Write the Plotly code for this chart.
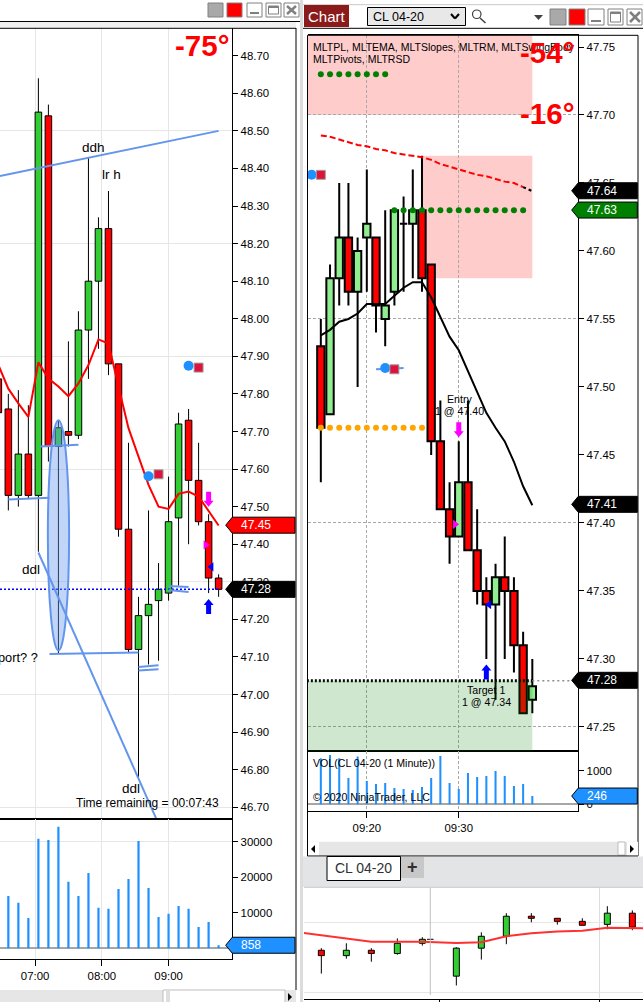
import plotly.graph_objects as go

W, H = 643, 1002
DAY = "2020-03-03 "
FONT = "Liberation Sans"
BLUE_LINE = "#6495ed"
VOL_BLUE = "#1e90ff"

# Left chart, 9 minute bars
left_times = ["06:27", "06:36", "06:45", "06:54", "07:03", "07:12", "07:21", "07:30", "07:39", "07:48", "07:57", "08:06",
              "08:15", "08:24", "08:33", "08:42", "08:51", "09:00", "09:09", "09:18", "09:27", "09:36", "09:45"]
left_open = [47.84, 47.76, 47.53, 47.64, 47.53, 48.54, 47.66, 47.70, 47.69, 47.97, 48.10, 48.24,
             47.88, 47.44, 47.12, 47.21, 47.25, 47.27, 47.47, 47.73, 47.57, 47.46, 47.31]
left_close = [47.75, 47.53, 47.64, 47.53, 48.55, 47.66, 47.71, 47.69, 47.97, 48.10, 48.24, 47.88,
              47.44, 47.12, 47.21, 47.24, 47.28, 47.46, 47.72, 47.57, 47.46, 47.31, 47.28]
left_high = [47.84, 47.80, 47.81, 47.77, 48.64, 48.57, 47.73, 47.94, 48.02, 48.43, 48.27, 48.34,
             47.88, 47.67, 47.26, 47.49, 47.35, 47.58, 47.75, 47.76, 47.67, 47.48, 47.32]
left_low = [47.70, 47.49, 47.50, 47.52, 47.38, 47.62, 47.11, 47.66, 47.68, 47.84, 47.92, 47.85,
            47.42, 47.11, 46.78, 47.08, 47.09, 47.25, 47.29, 47.40, 47.45, 47.27, 47.26]
left_ema = [47.877, 47.814, 47.775, 47.739, 47.884, 47.841, 47.82, 47.794, 47.828, 47.877, 47.945, 47.934,
            47.82, 47.709, 47.633, 47.558, 47.50, 47.494, 47.534, 47.54, 47.527, 47.487, 47.45]
left_vol = [0, 14700, 12800, 8500, 30800, 30500, 34200, 18700, 14700, 21200, 11400, 11100,
            16700, 19500, 30200, 17000, 8800, 9700, 11900, 11100, 6000, 7400, 858]
left_ticks = [48.70, 48.60, 48.50, 48.40, 48.30, 48.20, 48.10, 48.00, 47.90, 47.80, 47.70, 47.60,
              47.50, 47.40, 47.30, 47.20, 47.10, 47.00, 46.90, 46.80, 46.70]
left_grid = [48.50, 48.20, 47.90, 47.60, 47.30, 47.00, 46.70]
left_hours = ["07:00", "08:00", "09:00"]
left_vol_ticks = [10000, 20000, 30000]

# hand drawn lines on the left chart: start time, start price, end time, end price
left_drawn = [("06:28:30", 48.38, "09:45", 48.50), ("07:03", 47.378, "08:49:30", 46.666),
              ("06:36", 47.519, "07:13", 47.524), ("07:04:30", 47.66, "07:39", 47.665),
              ("07:13", 47.108, "08:33", 47.112), ("08:33", 47.064, "08:51", 47.067),
              ("08:33", 47.073, "08:51", 47.078), ("09:00", 47.289, "09:18", 47.286),
              ("09:00", 47.278, "09:18", 47.273)]
left_circles = [("09:18", 47.875), ("08:42", 47.581)]
left_squares = [("09:27", 47.87), ("08:51", 47.586)]

# Right chart, 1 minute bars
right_times = ["09:15", "09:16", "09:17", "09:18", "09:19", "09:20", "09:21", "09:22", "09:23", "09:24", "09:25", "09:26",
               "09:27", "09:28", "09:29", "09:30", "09:31", "09:32", "09:33", "09:34", "09:35", "09:36", "09:37", "09:38"]
right_open = [47.53, 47.48, 47.58, 47.61, 47.57, 47.61, 47.61, 47.55, 47.57, 47.62, 47.62, 47.63,
              47.59, 47.46, 47.41, 47.39, 47.43, 47.38, 47.35, 47.34, 47.36, 47.35, 47.31, 47.27]
right_close = [47.47, 47.58, 47.61, 47.57, 47.60, 47.62, 47.56, 47.56, 47.63, 47.62, 47.63, 47.58,
               47.46, 47.41, 47.39, 47.43, 47.38, 47.35, 47.34, 47.36, 47.35, 47.31, 47.26, 47.28]
right_high = [47.55, 47.59, 47.65, 47.65, 47.61, 47.66, 47.61, 47.63, 47.63, 47.64, 47.66, 47.67,
              47.59, 47.49, 47.43, 47.46, 47.49, 47.41, 47.36, 47.37, 47.39, 47.36, 47.32, 47.30]
right_low = [47.43, 47.48, 47.56, 47.56, 47.50, 47.57, 47.54, 47.53, 47.56, 47.57, 47.58, 47.57,
             47.45, 47.41, 47.37, 47.39, 47.38, 47.34, 47.30, 47.27, 47.30, 47.29, 47.26, 47.26]
right_black_line = [47.538, 47.542, 47.548, 47.55, 47.554, 47.561, 47.561, 47.561, 47.567, 47.573, 47.577, 47.577,
                    47.566, 47.551, 47.537, 47.527, 47.512, 47.496, 47.481, 47.470, 47.460, 47.445, 47.427, 47.413]
right_red_line = [47.685, 47.684, 47.682, 47.680, 47.678, 47.677, 47.675, 47.674, 47.672, 47.671, 47.670, 47.669,
                  47.667, 47.664, 47.662, 47.660, 47.658, 47.656, 47.655, 47.653, 47.651, 47.650, 47.647, 47.644]
right_vol = [1369, 1468, 1369, 784, 1419, 694, 605, 635, 486, 456, 427, 516,
             784, 1439, 635, 456, 933, 813, 843, 992, 843, 546, 605, 246]
right_ticks = [47.75, 47.70, 47.65, 47.60, 47.55, 47.50, 47.45, 47.40, 47.35, 47.30, 47.25]
right_grid = [47.70, 47.55, 47.40, 47.25]
right_minutes = ["09:20", "09:30"]
right_vol_ticks = [0, 1000]
green_dots_high = right_times[:8]
green_dots_low = right_times[8:23]
orange_dots = right_times[:12]
right_circles = [("09:14", 47.656), ("09:22", 47.514)]
right_squares = [("09:15", 47.656), ("09:23", 47.513)]

# Small chart at the bottom right, its axis is cut off so the scale is only relative
bottom_slots = [0, 1, 2, 3.04, 4.04, 5.4, 6.4, 7.4, 8.4, 9.44, 10.44, 11.44, 12.44]
bottom_open = [47.78, 47.757, 47.78, 47.766, 47.81, 47.669, 47.789, 47.84, 47.926, 47.917, 47.904, 47.891, 47.939]
bottom_close = [47.757, 47.78, 47.766, 47.81, 47.827, 47.789, 47.84, 47.926, 47.917, 47.904, 47.887, 47.939, 47.879]
bottom_high = [47.789, 47.81, 47.789, 47.831, 47.836, 47.793, 47.857, 47.939, 47.939, 47.917, 47.917, 47.969, 47.951]
bottom_low = [47.68, 47.744, 47.731, 47.761, 47.80, 47.629, 47.74, 47.806, 47.90, 47.89, 47.887, 47.87, 47.866]
bottom_line_x = [-0.7, 2, 3.04, 4.04, 5.4, 6.4, 7.4, 8.4, 9.44, 10.44, 11.44, 12.87]
bottom_line_y = [47.854, 47.817, 47.817, 47.817, 47.811, 47.814, 47.84, 47.853, 47.86, 47.864, 47.877, 47.874]
bottom_grid = [47.6, 47.9]
bottom_vlines = [11.12]


def X(px):
    return px / W


def Y(py):
    return 1 - py / H


def clock(t):
    return DAY + t


def clocks(ts):
    return [clock(t) for t in ts]


fig = go.Figure()
shapes = []
notes = []


def add_candles(x, o, h, l, c, xa, ya, up, lw, width):
    tops = [max(a, b) for a, b in zip(o, c)]
    bots = [min(a, b) for a, b in zip(o, c)]
    wick_x, wick_y = [], []
    for xi, hi, lo, t, b in zip(x, h, l, tops, bots):
        wick_x += [xi, xi, None, xi, xi, None]
        wick_y += [hi, t, None, b, lo, None]
    fig.add_trace(go.Scatter(x=wick_x, y=wick_y, mode="lines", xaxis=xa, yaxis=ya,
                             line=dict(color="black", width=lw)))
    colors = [up if b >= a else "#ff0000" for a, b in zip(o, c)]
    fig.add_trace(go.Bar(x=x, y=[t - b for t, b in zip(tops, bots)], base=bots, width=width, xaxis=xa, yaxis=ya,
                         marker=dict(color=colors, line=dict(color="black", width=lw))))


def add_line(x, y, xa, ya, color, lw, dash="solid"):
    fig.add_trace(go.Scatter(x=x, y=y, mode="lines", xaxis=xa, yaxis=ya, line=dict(color=color, width=lw, dash=dash)))


def add_dots(x, y, xa, ya, color, size, symbol="circle", edge=None):
    fig.add_trace(go.Scatter(x=x, y=y, mode="markers", xaxis=xa, yaxis=ya,
                             marker=dict(color=color, size=size, symbol=symbol,
                                         line=dict(color=edge or color, width=1 if edge else 0))))


def box(x0, y0, x1, y1, fill=None, line=None, lw=1):
    shapes.append(dict(type="rect", xref="paper", yref="paper", x0=X(x0), x1=X(x1), y0=Y(y0), y1=Y(y1),
                       fillcolor=fill or "rgba(0,0,0,0)", line=dict(color=line or "rgba(0,0,0,0)", width=lw if line else 0),
                       layer="above"))


def seg(x0, y0, x1, y1, color="black", lw=1):
    shapes.append(dict(type="line", xref="paper", yref="paper", x0=X(x0), x1=X(x1), y0=Y(y0), y1=Y(y1),
                       line=dict(color=color, width=lw), layer="above"))


def poly(points, fill):
    path = "M" + " L".join(f"{X(a):.5f},{Y(b):.5f}" for a, b in points) + " Z"
    shapes.append(dict(type="path", xref="paper", yref="paper", path=path, fillcolor=fill,
                       line=dict(width=0), layer="above"))


def label(px, py, text, size=12, color="black", anchor="left", bold=False):
    notes.append(dict(xref="paper", yref="paper", x=X(px), y=Y(py), text=f"<b>{text}</b>" if bold else text,
                      showarrow=False, xanchor=anchor, yanchor="middle", borderpad=0,
                      font=dict(family=FONT, size=size, color=color)))


def flag(value, ya, x_tip, x_body, x_end, text, fill, text_x, height=8):
    shapes.append(dict(type="path", xref="paper", yref=ya, ysizemode="pixel", yanchor=value, layer="above",
                       path=f"M{X(x_tip):.5f},0 L{X(x_body):.5f},{height} L{X(x_end):.5f},{height} "
                            f"L{X(x_end):.5f},{-height} L{X(x_body):.5f},{-height} Z",
                       fillcolor=fill, line=dict(color="black", width=1)))
    notes.append(dict(xref="paper", yref=ya, x=X(text_x), y=value, text=text, showarrow=False, xanchor="left",
                      yanchor="middle", borderpad=0, font=dict(family=FONT, size=12, color="white")))


def arrow(t, price, xa, ya, color, down=True):
    s = 1 if down else -1
    path = (f"M0,0 L-5,{6 * s} L-2.5,{6 * s} L-2.5,{15 * s} L2.5,{15 * s} L2.5,{6 * s} L5,{6 * s} Z")
    shapes.append(dict(type="path", xref=xa, yref=ya, xsizemode="pixel", ysizemode="pixel", xanchor=clock(t),
                       yanchor=price, path=path, fillcolor=color, line=dict(width=0), layer="above"))


def zone(t0, t1, p0, p1, xa, ya, color, layer):
    shapes.append(dict(type="rect", xref=xa, yref=ya, x0=t0, x1=t1, y0=p0, y1=p1, fillcolor=color,
                       line=dict(width=0), layer=layer))


# ---- left chart
left_x = clocks(left_times)
add_candles(left_x, left_open, left_high, left_low, left_close, "x", "y", "#32cd32", 1, 5.9 * 60000)
add_line(left_x, left_ema, "x", "y", "#ff0000", 2)
add_line([clock("06:28:30"), clock("09:46")], [47.28, 47.28], "x", "y", "#0000ff", 1.5, "2px,2px")
drawn_x, drawn_y = [], []
for t0, p0, t1, p1 in left_drawn:
    drawn_x += [clock(t0), clock(t1), None]
    drawn_y += [p0, p1, None]
add_line(drawn_x, drawn_y, "x", "y", BLUE_LINE, 2)
add_dots([clock(a) for a, b in left_circles], [b for a, b in left_circles], "x", "y", VOL_BLUE, 10)
add_dots([clock(a) for a, b in left_squares], [b for a, b in left_squares], "x", "y", "#dc143c", 9, "square", "#a0a0a0")
add_dots([clock("09:33:20")], [47.398], "x", "y", "#ff00ff", 8, "triangle-right")
add_dots([clock("09:38:30")], [47.34], "x", "y", "#0000ff", 8, "triangle-left")
fig.add_trace(go.Bar(x=left_x, y=left_vol, width=2.2 * 54000, xaxis="x2", yaxis="y2", marker=dict(color=VOL_BLUE, line=dict(width=0))))
shapes.append(dict(type="circle", xref="x", yref="y", x0=clock("07:11:30"), x1=clock("07:30:36"), y0=47.117, y1=47.73,
                   fillcolor="rgba(100,149,237,0.4)", line=dict(color=BLUE_LINE, width=2), layer="above"))
arrow("09:36", 47.50, "x", "y", "#ff00ff")
arrow("09:36", 47.254, "x", "y", "#0000ff", down=False)

# ---- right chart
right_x = clocks(right_times)
zone(clock("09:10"), clock("09:38"), 47.70, 47.80, "x3", "y3", "rgba(255,0,0,0.2)", "below")
zone(clock("09:26"), clock("09:38"), 47.58, 47.67, "x3", "y3", "rgba(255,0,0,0.2)", "below")
zone(clock("09:10"), clock("09:38"), 47.20, 47.284, "x3", "y3", "rgba(0,128,0,0.19)", "above")
add_candles(right_x, right_open, right_high, right_low, right_close, "x3", "y3", "#90ee90", 2, 0.8 * 60000)
add_line(right_x, right_black_line, "x3", "y3", "black", 2)
add_line(right_x[:-1], right_red_line[:-1], "x3", "y3", "#ff0000", 2, "6px,3px")
add_line(right_x[-2:], right_red_line[-2:], "x3", "y3", "black", 2, "3px,3px")
add_line([clock("09:10"), clock("09:38")], [47.284, 47.284], "x3", "y3", "black", 3, "2px,2px")
add_line([clock("09:38"), clock("09:43")], [47.284, 47.284], "x3", "y3", "#8c8c8c", 1.5, "2px,3px")
add_line([clock("09:21"), clock("09:24")], [47.513, 47.514], "x3", "y3", BLUE_LINE, 2)
add_dots(clocks(green_dots_high), [47.73] * len(green_dots_high), "x3", "y3", "#008000", 6)
add_dots(clocks(green_dots_low), [47.63] * len(green_dots_low), "x3", "y3", "#008000", 6)
add_dots(clocks(orange_dots), [47.47] * len(orange_dots), "x3", "y3", "#ffa500", 6)
add_dots([clock(a) for a, b in right_circles], [b for a, b in right_circles], "x3", "y3", VOL_BLUE, 10)
add_dots([clock(a) for a, b in right_squares], [b for a, b in right_squares], "x3", "y3", "#dc143c", 9, "square", "#a0a0a0")
add_dots([clock("09:29:36")], [47.399], "x3", "y3", "#ff00ff", 8, "triangle-right")
add_dots([clock("09:33:18")], [47.34], "x3", "y3", "#0000ff", 8, "triangle-left")
arrow("09:30", 47.463, "x3", "y3", "#ff00ff")
arrow("09:33", 47.296, "x3", "y3", "#0000ff", down=False)
fig.add_trace(go.Bar(x=right_x, y=right_vol, width=0.22 * 60000, xaxis="x4", yaxis="y4", marker=dict(color=VOL_BLUE, line=dict(width=0))))

# ---- bottom chart
add_candles(bottom_slots, bottom_open, bottom_high, bottom_low, bottom_close, "x5", "y5", "#32cd32", 1, 0.24)
add_line(bottom_line_x, bottom_line_y, "x5", "y5", "#ff3030", 2)
add_line([4.23, 4.49], [47.827, 47.827], "x5", "y5", "black", 1)

# ---- window chrome
box(0, 21, 296, 28, "#f0f0f0")
seg(296, 28, 296, 990)
seg(0, 21.5, 300, 21.5)
seg(0, 28.3, 296, 28.3)
box(0, 990, 296, 1002, "#e6e6e6")
box(163, 990, 285, 1003, "white", "#bdbdbd")
seg(167, 991, 167, 1002, "#bdbdbd")
seg(169, 991, 169, 1002, "#bdbdbd")
poly([(288, 993), (288, 1001), (292, 997)], "black")
box(300, 0, 303, 1002, "#dcdcdc")
seg(303, 4.7, 643, 4.7, "#c8c8c8")
seg(303, 28.3, 643, 28.3)


def buttons(xs, y0, y1):
    size = xs[0][1] - xs[0][0]
    box(xs[0][0], y0, xs[0][1], y1, "#a9a9a9", "#808080")
    box(xs[1][0], y0, xs[1][1], y1, "#ff0000", "#808080")
    box(xs[2][0], y0, xs[2][1], y1, "white", "#808080")
    seg(xs[2][0] + 3, y1 - 4, xs[2][1] - 3, y1 - 4, "#808080", 2)
    box(xs[3][0], y0, xs[3][1], y1, "white", "#808080")
    box(xs[3][0] + 2.5, y0 + 3, xs[3][1] - 2.5, y1 - 3, None, "#808080")
    seg(xs[3][0] + 2.5, y0 + 4, xs[3][1] - 2.5, y0 + 4, "#808080", 2)
    box(xs[4][0], y0, xs[4][1], y1, "white", "#808080")
    seg(xs[4][0] + 3, y0 + 3, xs[4][0] + size - 3, y1 - 3, "#808080", 2.5)
    seg(xs[4][0] + size - 3, y0 + 3, xs[4][0] + 3, y1 - 3, "#808080", 2.5)


buttons([(208, 223), (227, 242), (247, 262), (266, 281), (284, 299)], 3, 17)
buttons([(550, 566), (569, 585), (588, 604), (608, 623), (627, 642)], 9, 25)

box(304, 5, 349, 27, "#8b1a1a")
label(307, 16.5, "Chart", 15, "white")
box(367.5, 7.5, 465.5, 25.5, "#e8e8e8", "black")
label(372, 16.5, "CL 04-20", 12.5)
seg(451, 14, 455, 18.5, "black", 2)
seg(455, 18.5, 459, 14, "black", 2)
shapes.append(dict(type="circle", xref="paper", yref="paper", x0=X(472.5), x1=X(481), y0=Y(18.5), y1=Y(10),
                   fillcolor="white", line=dict(color="#404040", width=1.2), layer="above"))
seg(480, 18, 485.5, 23, "#404040", 1.5)
poly([(534, 15), (543, 15), (538.5, 20)], "#404040")

box(307.5, 35.3, 638, 856, None, "black")
box(308, 841.7, 638, 856, "#e6e6e6")
box(308, 842, 319, 856, "white")
poly([(315, 845), (315, 853), (311, 849)], "black")
box(627, 842, 638, 856, "white")
poly([(630, 845), (630, 853), (634, 849)], "black")
box(618, 842, 625, 855, "white", "#bdbdbd")
seg(307.5, 856, 638, 856)
box(303, 856.5, 643, 887, "#e3e4e6")
box(327, 856.5, 400.5, 880.5, "white", "black")
label(363.5, 867.5, "CL 04-20", 14, "#303030", "center")
box(401, 857, 424, 878, "#c8c8c8")
label(412, 867, "<b>+</b>", 18, "#303030", "center")
seg(304, 887.3, 643, 887.3, "#c8c8c8")
seg(430.3, 888, 430.3, 995, "#c0c0c0")
seg(304, 999.5, 643, 999.5)
seg(439.5, 999.5, 439.5, 1002)
seg(599.5, 999.5, 599.5, 1002)

# ---- flags
flag(47.4507, "y", 225.7, 232.3, 295, "47.45", "#ff0000", 240)
flag(47.28, "y", 225.7, 232.3, 295, "47.28", "black", 240)
flag(858, "y2", 225.7, 232.3, 295, "858", VOL_BLUE, 240)
flag(47.6443, "y3", 571.7, 578.3, 637.3, "47.64", "black", 586)
flag(47.6301, "y3", 571.7, 578.3, 637.3, "47.63", "#008000", 586)
flag(47.4137, "y3", 571.7, 578.3, 637.3, "47.41", "black", 586)
flag(47.2843, "y3", 571.7, 578.3, 637.3, "47.28", "black", 586)
flag(246, "y4", 571.7, 578.3, 637.3, "246", VOL_BLUE, 586)

# ---- texts
label(230, 46, "-75°", 29.5, "#ff0000", "right", True)
label(93, 147, "ddh", 13.5, anchor="center")
label(101, 174, "lr h", 13.5)
label(31, 569, "ddl", 13.5, anchor="center")
label(130.7, 788, "ddl", 13.5, anchor="center")
label(39, 657.7, "port? ?", 12.8, anchor="right")
label(219.5, 802.7, "Time remaining = 00:07:43", 12, anchor="right")
label(311.7, 47.3, "MLTPL, MLTEMA, MLTSlopes, MLTRM, MLTSwingBody", 10.5)
label(311.7, 59, "MLTPivots, MLTRSD", 10.5)
label(575, 53, "-54°", 29.5, "#ff0000", "right", True)
label(575, 113.5, "-16°", 29.5, "#ff0000", "right", True)
label(459, 399, "Entry", 10.6, anchor="center")
label(459, 411, "1 @ 47.40", 10.6, anchor="center")
label(486, 690, "Target 1", 10.6, anchor="center")
label(486, 702, "1 @ 47.34", 10.6, anchor="center")
label(311.7, 762.7, "VOL(CL 04-20 (1 Minute))", 10.6)
label(311.7, 797, "© 2020 NinjaTrader, LLC", 10.6)

tick_font = dict(family=FONT, size=11.4, color="black")


def x_axis(x0, x1, y_name, rng, vals, grid, dash="solid", labels=False):
    return dict(domain=[X(x0), X(x1)], anchor=y_name, range=rng, type="date", tickvals=clocks(vals), tickformat="%H:%M",
                showticklabels=labels, ticks="outside" if labels else "", ticklen=6, tickcolor="black", tickfont=tick_font,
                showgrid=True, gridcolor=grid, griddash=dash, gridwidth=1, zeroline=False,
                showline=True, linecolor="black", linewidth=1, mirror=True)


def y_axis(y_top, y_bot, x_name, rng, vals, grid, grid_vals, dash="solid", fmt=".2f", zero=False):
    return dict(domain=[Y(y_bot), Y(y_top)], anchor=x_name, side="right", range=rng, tickvals=vals, tickformat=fmt,
                ticks="outside", ticklen=5, tickcolor="black", tickfont=tick_font, showgrid=False,
                minor=dict(tickvals=grid_vals, showgrid=True, gridcolor=grid, griddash=dash, gridwidth=1, ticks=""),
                zeroline=zero, zerolinecolor="#a6a6a6", zerolinewidth=1.5,
                showline=True, linecolor="black", linewidth=1)


left_range = [clock("06:28:30"), clock("09:57:18")]
right_range = [clock("09:13:33"), clock("09:43:00")]
fig.update_layout(
    width=W, height=H, margin=dict(l=0, r=0, t=0, b=0), paper_bgcolor="white", plot_bgcolor="white",
    showlegend=False, barmode="overlay", hovermode=False, font=dict(family=FONT),
    xaxis=x_axis(0, 232.3, "y", left_range, left_hours, "#e6e6e6"),
    yaxis=y_axis(28.3, 819.3, "x", [46.668, 48.773], left_ticks, "#e6e6e6", left_grid),
    xaxis2=x_axis(0, 232.3, "y2", left_range, left_hours, "#e6e6e6", labels=True),
    yaxis2=y_axis(819.3, 959.3, "x2", [-3100, 36310], left_vol_ticks, "#e6e6e6", [30000], fmt="d", zero=True),
    xaxis3=x_axis(307.5, 578.3, "y3", right_range, right_minutes, "#a9a9a9", "3px,2px"),
    yaxis3=y_axis(35.3, 751.3, "x3", [47.2321, 47.7586], right_ticks, "#a9a9a9", right_grid, "3px,2px"),
    xaxis4=x_axis(307.5, 578.3, "y4", right_range, right_minutes, "#a9a9a9", "3px,2px", labels=True),
    yaxis4=y_axis(751.3, 811.3, "x4", [-208, 1577], right_vol_ticks, "#a9a9a9", [], fmt="d", zero=True),
    xaxis5=dict(domain=[X(304), X(643)], anchor="y5", range=[-0.693, 12.867], showticklabels=False, ticks="",
                tickvals=bottom_vlines, showgrid=True, gridcolor="#dcdcdc", zeroline=False),
    yaxis5=dict(domain=[Y(998.3), Y(887.3)], anchor="x5", range=[47.574, 48.05], showticklabels=False, ticks="",
                tickvals=bottom_grid, showgrid=True, gridcolor="#e6e6e6", zeroline=False),
    shapes=shapes, annotations=notes,
)

fig.write_html("out.html", config={"displayModeBar": False},
               post_script="document.body.style.margin='0';document.body.style.overflow='hidden';")
